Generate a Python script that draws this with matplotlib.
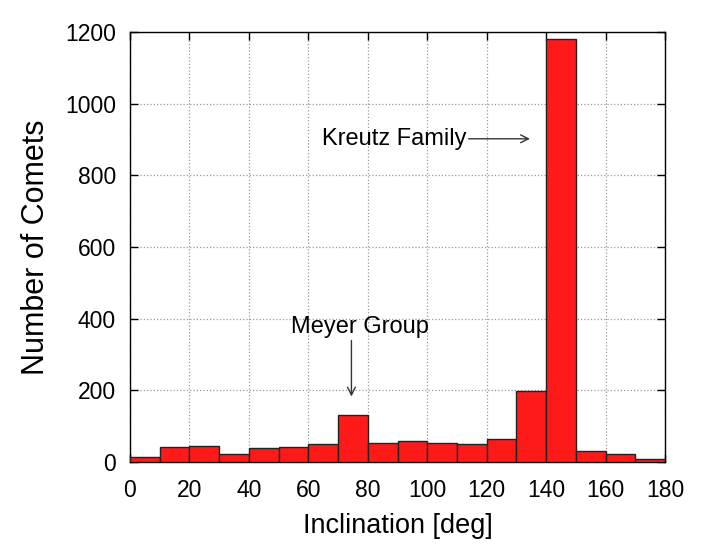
import matplotlib
matplotlib.use("Agg")
import matplotlib.pyplot as plt
import numpy as np

# histogram bin edges (deg) and comet counts per 10-degree bin
bin_edges = list(range(0, 190, 10))
counts = [13, 42, 46, 21, 40, 43, 49, 130, 52, 60,
          52, 49, 63, 197, 1180, 32, 23, 7]

x_ticks = list(range(0, 200, 20))
y_ticks = list(range(0, 1400, 200))

plt.rcParams["font.family"] = ["Liberation Sans", "DejaVu Sans"]

fig = plt.figure(figsize=(7.08, 5.45), dpi=100)
ax = fig.add_axes([130 / 708, 1 - 462 / 545, 535 / 708, 430 / 545])

lefts = np.array(bin_edges[:-1])
widths = np.diff(bin_edges)
ax.bar(lefts, counts, width=widths, align="edge", color="#ff1a1a",
       edgecolor="#222222", linewidth=1.0, zorder=3)

ax.set_xlim(0, 180)
ax.set_ylim(0, 1200)
ax.set_xticks(x_ticks)
ax.set_yticks(y_ticks)
ax.tick_params(direction="in", length=6, width=1, top=True, right=True,
               labelsize=16.5)
ax.tick_params(axis="x", pad=12)
ax.tick_params(axis="y", pad=10)
ax.grid(True, linestyle=":", color="#999999", linewidth=0.9, zorder=0)
for s in ax.spines.values():
    s.set_linewidth(1.0)

ax.set_xlabel("Inclination [deg]", fontsize=19.5, labelpad=8)
ax.set_ylabel("Number of Comets", fontsize=22, labelpad=10)

ax.annotate("", xy=(135.5, 902), xytext=(113, 902),
            arrowprops=dict(arrowstyle="->", color="#333333", lw=1.0,
                            mutation_scale=14), zorder=5)
ax.text(64.5, 900, "Kreutz Family", fontsize=17, va="center", ha="left",
        zorder=6)

ax.annotate("", xy=(74.5, 175), xytext=(74.5, 347),
            arrowprops=dict(arrowstyle="->", color="#333333", lw=1.0,
                            mutation_scale=14), zorder=5)
ax.text(77.5, 378, "Meyer Group", fontsize=17, va="center", ha="center",
        zorder=6)

fig.savefig("out.png", dpi=100)
